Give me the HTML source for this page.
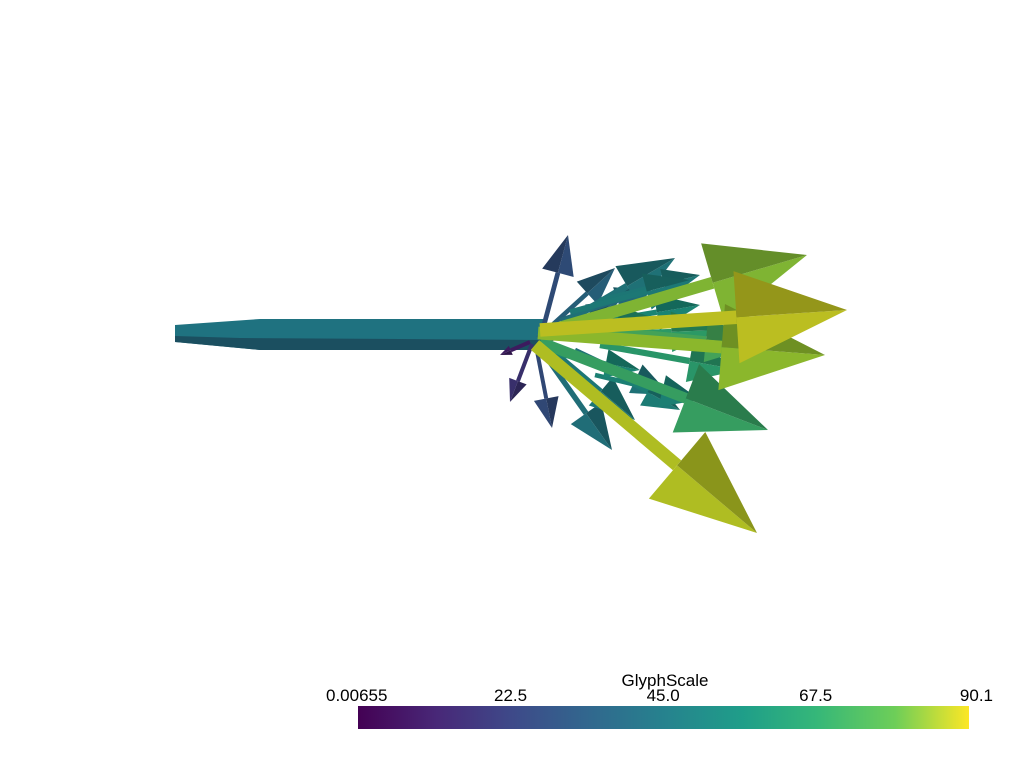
<!DOCTYPE html>
<html><head><meta charset="utf-8"><style>
body{margin:0;background:#fff;}
svg{display:block;font-family:"Liberation Sans",sans-serif;}
</style></head><body>
<svg id="c" width="1024" height="768">
<defs><linearGradient id="vir" x1="0" x2="1" y1="0" y2="0">
<stop offset="0" stop-color="#440154"/><stop offset="0.13" stop-color="#482878"/><stop offset="0.25" stop-color="#3e4989"/><stop offset="0.38" stop-color="#31688e"/><stop offset="0.5" stop-color="#26828e"/><stop offset="0.63" stop-color="#1f9e89"/><stop offset="0.75" stop-color="#35b779"/><stop offset="0.88" stop-color="#6ece58"/><stop offset="1" stop-color="#fde725"/></linearGradient></defs>
<g id="arrows"></g>
<text x="665" y="686" font-size="17" text-anchor="middle" fill="#000">GlyphScale</text>
<g id="ticks"></g>
<rect x="358" y="706" width="611" height="23" fill="url(#vir)"/>
</svg>
<script>
const originX=[540,538,542,545,540,538,540,535,540,536,532,530,540,542,545,545,560,570,580,575,590,585,600,595,610,600];
const originY=[340,338,336,332,330,333,342,345,348,346,344,342,340,345,328,352,320,312,325,350,360,335,300,375,330,345];
const tipX=[568,615,675,807,847,825,768,757,612,552,510,500,635,620,660,640,650,690,700,670,680,720,700,700,760,740];
const tipY=[235,268,258,255,310,355,430,533,450,428,402,355,420,300,320,370,290,280,305,395,410,330,275,400,345,370];
const values=[25,33,42,76,86,78,62,84,40,24,15,8,44,38,55,50,38,45,50,42,46,60,44,48,65,58];
const tickVals=[0.00655,22.5,45.0,67.5,90.1];
const tickText=["0.00655","22.5","45.0","67.5","90.1"];
const vmin=0.00655,vmax=90.1;
const NS="http://www.w3.org/2000/svg";
const vir=[[68,1,84],[72,40,120],[62,73,137],[49,104,142],[38,130,142],[31,158,137],[53,183,121],[110,206,88],[181,222,43],[253,231,37]];
function cmap(v){let t=Math.max(0,Math.min(1,(v-vmin)/(vmax-vmin)))*(vir.length-1);let i=Math.min(vir.length-2,Math.floor(t)),f=t-i;return vir[i].map((c,k)=>c+(vir[i+1][k]-c)*f);}
function rgb(c,s){return`rgb(${c.map(x=>Math.round(x*s)).join(',')})`;}
function cx(v){return 358+(v-vmin)/(vmax-vmin)*611;}
const g=document.getElementById('arrows');
const shaft=document.createElementNS(NS,'polygon');
shaft.setAttribute('points','175,325 260,319 545,319 545,350 260,350 175,342');
shaft.setAttribute('fill','#1f7280');


g.appendChild(shaft);
const sh2=document.createElementNS(NS,'polygon');
sh2.setAttribute('points','175,336 240,338 545,340 545,350 260,350 175,342');
sh2.setAttribute('fill','#1b4f60');


g.appendChild(sh2);
const order=values.map((v,i)=>i).sort((a,b)=>values[a]-values[b]);
order.forEach(i=>{
 const x0=originX[i],y0=originY[i],x1=tipX[i],y1=tipY[i];
 const dx=x1-x0,dy=y1-y0,L=Math.hypot(dx,dy),ux=dx/L,uy=dy/L,px=-uy,py=ux;
 const cl=0.36*L,hw=0.15*L,sw=Math.max(2,0.022*L);
 const bx=x1-ux*cl,by=y1-uy*cl;
 const c=cmap(values[i]).map(x=>x*0.88);
 const grp=document.createElementNS(NS,'g');
 
 
 const s=document.createElementNS(NS,'polygon');
 s.setAttribute('points',`${x0+px*sw},${y0+py*sw} ${bx+px*sw},${by+py*sw} ${bx-px*sw},${by-py*sw} ${x0-px*sw},${y0-py*sw}`);
 s.setAttribute('fill',rgb(c,0.95));
 grp.appendChild(s);
 const h1=document.createElementNS(NS,'polygon');
 h1.setAttribute('points',`${bx+px*hw},${by+py*hw} ${x1},${y1} ${bx},${by}`);
 h1.setAttribute('fill',rgb(c,0.95));
 grp.appendChild(h1);
 const h2=document.createElementNS(NS,'polygon');
 h2.setAttribute('points',`${bx-px*hw},${by-py*hw} ${x1},${y1} ${bx},${by}`);
 h2.setAttribute('fill',rgb(c,0.75));
 grp.appendChild(h2);
 g.appendChild(grp);
});
const tg=document.getElementById('ticks');
tickVals.forEach((v,i)=>{
 const t=document.createElementNS(NS,'text');
 let x=cx(v);
 let anchor='middle';
 if(i===0){anchor='start';x=326;}
 if(i===tickVals.length-1){anchor='end';x=993;}
 t.setAttribute('x',x);t.setAttribute('y',701);t.setAttribute('font-size','17');t.setAttribute('text-anchor',anchor);
 t.textContent=tickText[i];
 
 
 tg.appendChild(t);
});
</script>
</body></html>
